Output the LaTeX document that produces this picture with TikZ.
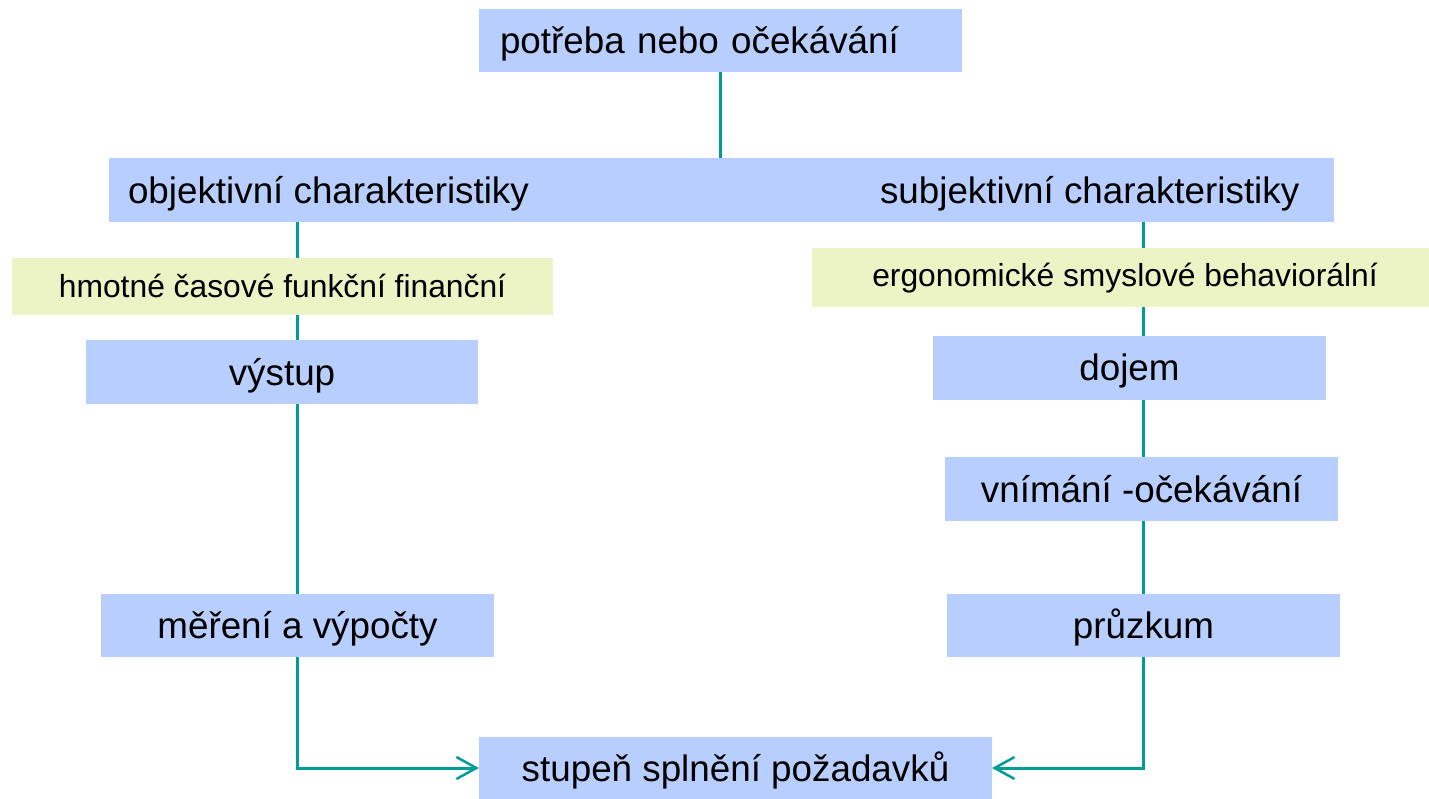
\documentclass[tikz,border=0pt]{standalone}
\usepackage{fontspec}
\setmainfont{Liberation Sans}
\usetikzlibrary{arrows.meta,backgrounds}
\definecolor{boxblue}{HTML}{B8CEFE}
\definecolor{boxyellow}{HTML}{ECF3C5}
\definecolor{linkteal}{HTML}{009C99}
\begin{document}
\begin{tikzpicture}[x=1pt,y=-1pt,
  bluebox/.style={rectangle, fill=boxblue, inner sep=0pt, outer sep=0pt,
    minimum height=64pt, text height=26pt, text depth=0pt,
    font=\fontsize{36.8}{44}\selectfont},
  yellowbox/.style={rectangle, fill=boxyellow, inner sep=0pt, outer sep=0pt,
    text height=22pt, text depth=0pt,
    font=\fontsize{31.8}{38}\selectfont},
  label/.style={inner sep=0pt, outer sep=0pt, font=\fontsize{36.8}{44}\selectfont},
  link/.style={draw=linkteal, line width=3pt},
  arrowlink/.style={link, -{Straight Barb[length=20pt,width=22pt,line width=2.5pt]}}
]
\useasboundingbox (0,0) rectangle (1429,799);
% top
\node[bluebox, anchor=north west, minimum width=483pt, minimum height=63pt,
  text width=441pt, align=left, inner xsep=21pt] (need) at (479,9) {potřeba nebo očekávání};
% wide bar
\node[bluebox, anchor=north west, minimum width=1225pt] (bar) at (109,158) {};
\node[label, anchor=base west] (obj) at (128,204) {objektivní charakteristiky};
\node[label, anchor=base west] (subj) at (880,204) {subjektivní charakteristiky};
% left column
\node[yellowbox, minimum width=541pt, minimum height=57pt] (hmot) at (282.5,286.5) {hmotné časové funkční finanční};
\node[bluebox, minimum width=392pt] (vystup) at (282,372) {výstup};
\node[bluebox, minimum width=393pt, minimum height=63pt] (mereni) at (297.5,625.5) {měření a výpočty};
% right column
\node[yellowbox, anchor=north west, minimum width=617pt, minimum height=59pt] (ergo) at (812,248) {};
\node[inner sep=0pt, outer sep=0pt, anchor=base, font=\fontsize{31.8}{38}\selectfont] (ergotext) at (1125,287) {ergonomické smyslové behaviorální};
\node[bluebox, minimum width=393pt] (dojem) at (1129.5,368) {dojem};
\node[bluebox, minimum width=393pt] (vnimani) at (1141.5,489) {vnímání -očekávání};
\node[bluebox, minimum width=393pt, minimum height=63pt] (pruzkum) at (1143.5,625.5) {průzkum};
% bottom
\node[bluebox, minimum width=513pt, minimum height=62pt] (stupen) at (735.5,768) {stupeň splnění požadavků};
% connectors
\begin{scope}[on background layer]
\draw[link] (need.south) -- (bar.north -| need.south);
\draw[link] (bar.south -| mereni.north) -- (mereni.north);
\draw[link] (bar.south -| pruzkum.north) -- (pruzkum.north);
\end{scope}
\draw[arrowlink] (mereni.south) |- (stupen.west);
\draw[arrowlink] (pruzkum.south) |- (stupen.east);
\end{tikzpicture}
\end{document}
